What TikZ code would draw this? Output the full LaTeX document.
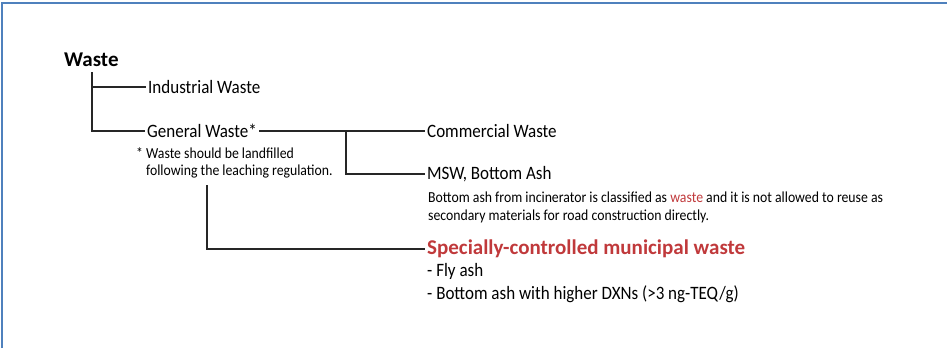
\documentclass[tikz,border=0pt]{standalone}
\usepackage{fontspec}
\setmainfont{Carlito}[FakeStretch=0.9]
\newfontfamily\headfont{Carlito}
\definecolor{frameblue}{HTML}{4F81BD}
\definecolor{alertred}{HTML}{C0393B}
\tikzset{
  item/.style={anchor=west, inner xsep=2pt, inner ysep=1pt, font=\fontsize{18.9}{23.5}\selectfont},
  head/.style={anchor=west, inner xsep=2pt, inner ysep=1pt, font=\fontsize{21}{24}\headfont\bfseries},
  note/.style={anchor=north west, inner sep=0pt, align=left, font=\fontsize{15.3}{17.5}\selectfont},
  branch/.style={line width=1.1pt, black!85}
}
\begin{document}
\begin{tikzpicture}[x=1pt, y=-1pt]
  \useasboundingbox (0,0) rectangle (947,348);
  % frame
  \draw[frameblue, line width=1.6pt] (2,348) -- (2,3) -- (947,3);

  \node[head] (waste) at (62,60) {Waste};
  \node[item] (ind) at (146,87) {Industrial Waste};
  \node[item] (gen) at (145,131) {General Waste*};
  \node[note] (genNote) at (136,147) {* Waste should be landfilled\\\phantom{* }following the leaching regulation.};
  \node[item] (com) at (425,131) {Commercial Waste};
  \node[item] (msw) at (425,174) {MSW, Bottom Ash};
  \node[note] (mswNote) at (428,192) {Bottom ash from incinerator is classified as \textcolor{alertred}{waste} and it is not allowed to reuse as\\secondary materials for road construction directly.};
  \node[head, text=alertred] (spec) at (425,249) {Specially-controlled municipal waste};
  \node[item, anchor=north west, align=left] (fly) at (425,262) {- Fly ash\\- Bottom ash with higher DXNs (>3 ng-TEQ/g)};

  \coordinate (trunk) at (92,72);
  \coordinate (fork) at (346,131);
  \coordinate (specTop) at (207,185);

  \draw[branch] (trunk) |- (ind.west);
  \draw[branch] (trunk) |- (gen.west);
  \draw[branch] (gen.east) -- (com.west);
  \draw[branch] (fork) |- (msw.west);
  \draw[branch] (specTop) |- (spec.west);
\end{tikzpicture}
\end{document}
